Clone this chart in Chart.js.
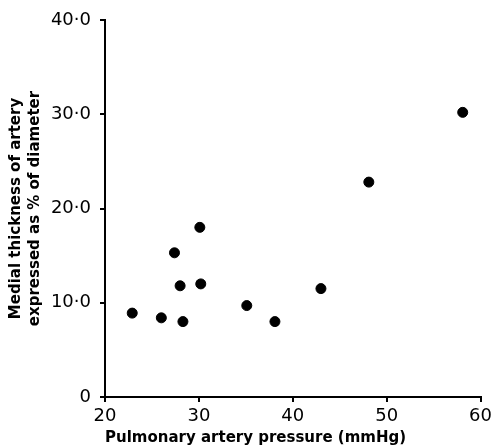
<!DOCTYPE html>
<html>
<head>
<meta charset="utf-8">
<script src="https://cdn.jsdelivr.net/npm/chart.js@4"></script>
<style>
  html, body { margin: 0; padding: 0; background: #fff; }
  #wrap { width: 496px; height: 448px; }
</style>
</head>
<body>
<div id="wrap"><canvas id="scatter_chart"></canvas></div>
<script>
// pulmonary artery pressure (mmHg)
const pressure = [22.9, 26.0, 28.3, 28.0, 27.4, 30.1, 30.2, 35.1, 38.1, 43.0, 48.1, 58.1];
// medial thickness, % of diameter
const thickness = [8.9, 8.4, 8.0, 11.8, 15.3, 18.0, 12.0, 9.7, 8.0, 11.5, 22.8, 30.2];

const xTickLabels = ['20', '30', '40', '50', '60'];
const yTickLabels = ['0', '10·0', '20·0', '30·0', '40·0'];

const points = pressure.map((p, i) => ({ x: p, y: thickness[i] }));

const ctx = document.getElementById("scatter_chart").getContext('2d');
new Chart(ctx, {
    type: 'scatter',
    data: {
        datasets: [{
            data: points,
            backgroundColor: '#000',
            borderColor: '#000',
            pointRadius: 5,
            pointHoverRadius: 5
        }]
    },
    options: {
        responsive: true,
        maintainAspectRatio: false,
        animation: false,
        layout: { padding: { left: 0, right: 13, top: 20, bottom: 0 } },
        plugins: { legend: { display: false }, tooltip: { enabled: false } },
        scales: {
            x: {
                type: 'linear',
                min: 20, max: 60,
                afterFit: s => { s.height = 51; },
                border: { display: true, color: '#000', width: 2 },
                grid: { drawOnChartArea: false, drawTicks: true, tickLength: 5, color: '#000', lineWidth: 2 },
                ticks: {
                    stepSize: 10,
                    color: '#000',
                    padding: 4,
                    maxRotation: 0,
                    font: { family: 'DejaVu Sans', size: 18 },
                    callback: (v, i) => xTickLabels[i]
                },
                title: {
                    display: true,
                    align: 'start',
                    text: 'Pulmonary artery pressure (mmHg)',
                    color: '#000',
                    padding: { top: 0, bottom: 1 },
                    font: { family: 'DejaVu Sans', size: 15, weight: 'bold' }
                }
            },
            y: {
                type: 'linear',
                min: 0, max: 40,
                afterFit: s => { s.width = 105; },
                border: { display: true, color: '#000', width: 2 },
                grid: { drawOnChartArea: false, drawTicks: true, tickLength: 5, color: '#000', lineWidth: 2 },
                ticks: {
                    stepSize: 10,
                    color: '#000',
                    padding: 9,
                    font: { family: 'DejaVu Sans', size: 18 },
                    callback: (v, i) => yTickLabels[i]
                },
                title: {
                    display: true,
                    text: ['Medial thickness of artery', 'expressed as % of diameter'],
                    color: '#000',
                    padding: { top: 6, bottom: 0 },
                    font: { family: 'DejaVu Sans', size: 15, weight: 'bold', lineHeight: 1.3 }
                }
            }
        }
    }
});
</script>
</body>
</html>
